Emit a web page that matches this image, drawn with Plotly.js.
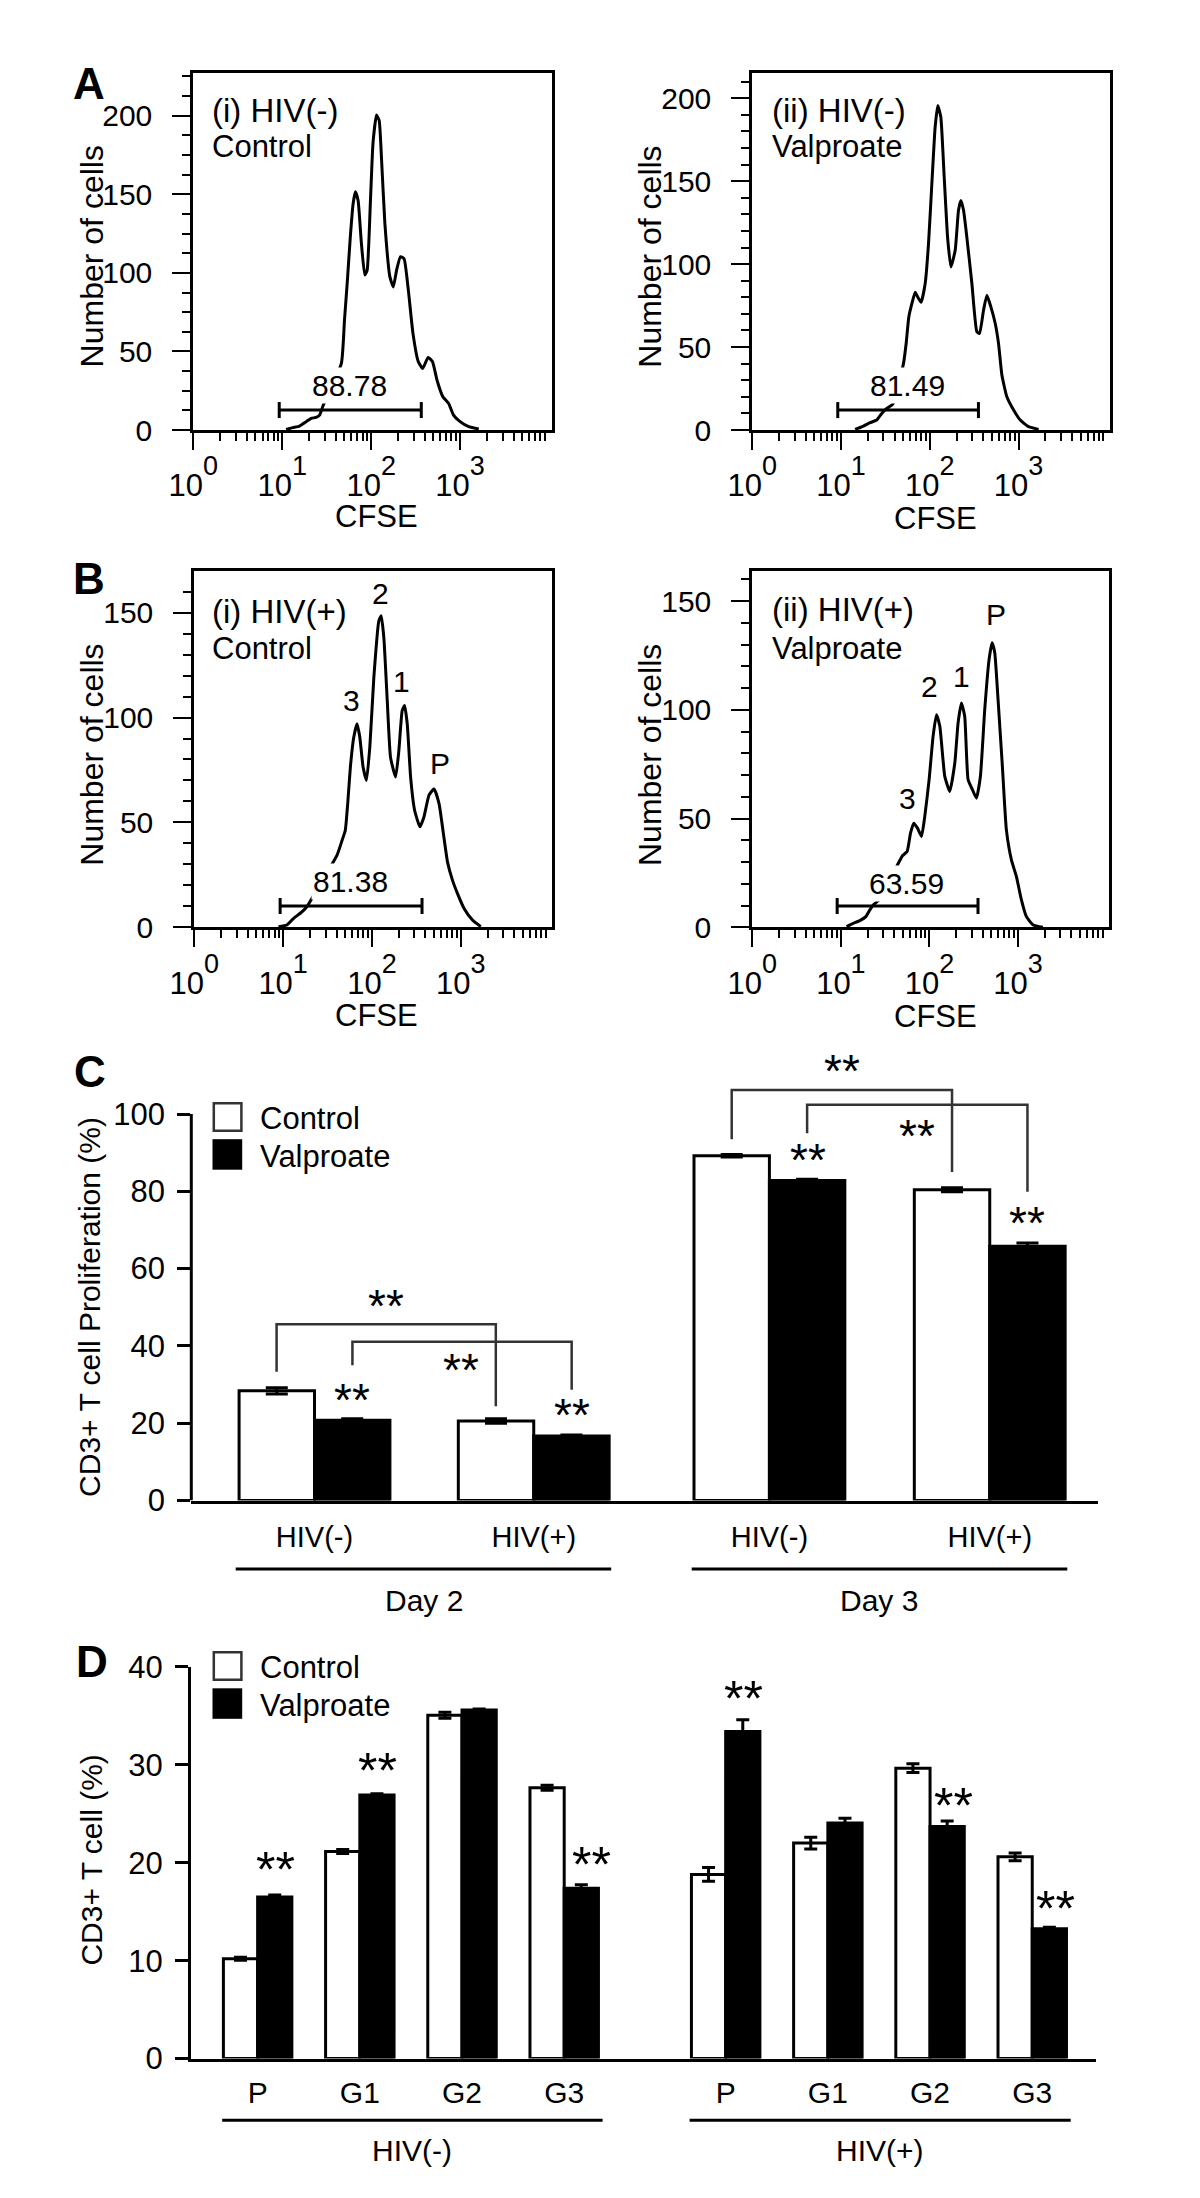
<!DOCTYPE html>
<html><head><meta charset="utf-8">
<script src="https://cdn.plot.ly/plotly-3.0.1.min.js"></script>
<style>html,body{margin:0;padding:0;background:#fff}#chart{width:1200px;height:2198px}</style>
</head><body><div id="chart"></div>
<script>
// ================= DATA =================
// Panel A (i) HIV(-) Control : CFSE intensity vs number of cells
const cfseA1 = [11.04,13.15,15.63,18.62,21.18,23.99,26.3,28.71,46.24,50.12,53.7,58.3,62.66,66.53,71.29,77.62,84.72,90.16,98.17,104.7,114.8,123.0,130.9,142.6,162.2,177.4,193.2,213.8,234.4,261.8,295.1,338.8,380.2,436.5,489.8,549.5,639.7,741.3,843.3,1000,1247,1622];
const cellsA1 = [0.4,1.5,2.5,5.3,7.4,8,9.5,15.3,42.4,70,93,123,144,151.6,146,119,98.6,101.8,146,182,200.4,197,172,131.5,97.6,91,101.8,110.3,109,89,61.5,43.5,39.2,46.2,43.5,31.8,21.2,17,9.5,5.3,2.1,0.6];
// Panel A (ii) HIV(-) Valproate
const cfseA2 = [14.39,17.86,21.23,25.23,28.77,32.73,38.28,50.47,54.08,57.94,62.66,68.39,73.28,79.80,88.51,96.61,105.4,114.8,123.0,133.0,145.2,158.5,172.6,193.2,210.4,223.9,239.9,261.2,297.8,338.8,363.1,402.7,439.5,487.5,545.8,594.3,648.6,737.9,879.0,1044.7,1297.2,1682.7];
const cellsA2 = [0.4,2.4,4.4,6,10,13,15.6,40,52,68,76,83,80,77,88,112,148.4,182.5,195.6,188.6,152.5,116.3,98.3,108.3,132.4,138.4,132.4,116.3,88.3,59.2,58.2,72.2,81.2,74.2,64.2,52.2,33.1,20,12,6,2,0.4];
// Panel B (i) HIV(+) Control
const cfseB1 = [8.87,11.04,13.12,15.60,18.54,20.56,40.46,46.13,50.12,53.33,57.15,62.37,67.92,72.95,79.43,86.70,94.62,104.95,119.4,127.06,136.1,148.6,161.8,184.5,200.9,218.8,232.8,249.5,272.3,302.0,346.7,384.6,438.5,500.0,568.9,636.8,707.9,805.4,916.2,1088.9,1352.1,1678.8];
const cellsB1 = [0.3,1.1,4.3,6.7,9.8,13,34.4,41.5,46.3,59,76.4,90.6,97,90.6,76.4,70,86,119,146,148.5,138,108,81,71.6,84.3,103.3,105.7,97,71.6,55.8,47.9,52.6,63,66,59,44.7,31.2,22.5,16.2,9,3.5,0.3];
// Panel B (ii) HIV(+) Valproate
const cfseB2 = [11.59,13.77,16.37,19.14,21.23,23.17,27.04,49.55,55.98,61.09,66.53,73.28,81.28,88.51,99.08,109.9,119.9,130.9,148.9,169.4,193.2,210.4,229.6,250.0,272.9,305.5,338.8,375.8,420.7,471.0,509.3,545.8,594.3,665.3,737.9,841.4,957.2,1091.4,1241.7,1479.1,1905.5];
const cellsB2 = [0.3,1.8,3.1,4.9,8,10.3,12.6,32.9,34.9,43.3,47.9,45.6,41.8,51,67.9,87.9,97.8,92.5,69.4,62.5,75.6,94,103.2,97,67.9,63.3,59.4,69.4,100.2,123.2,130.9,126.3,104.8,74,44.9,31,23.4,12.6,4.9,1.1,0];
// gates (CFSE start, end) and percentage of divided cells
const gateStart = [9.25, 9.18, 9.25, 9.08];
const gateEnd = [366, 353, 366, 353];
const gatePct = ['88.78', '81.49', '81.38', '63.59'];
const histTitles = ['(i) HIV(-)', '(ii) HIV(-)', '(i) HIV(+)', '(ii) HIV(+)'];
const histTreat = ['Control', 'Valproate', 'Control', 'Valproate'];
const peakLabels = ['3', '2', '1', 'P'];
const xTickExp = ['0', '1', '2', '3'];

// Panel C : CD3+ T cell proliferation (%)
const dayLabels = ['Day 2', 'Day 3'];
const hivLabelsC = ['HIV(-)', 'HIV(+)', 'HIV(-)', 'HIV(+)'];
const prolifControl = [28.4, 20.6, 89.2, 80.4];
const prolifControlErr = [0.8, 0.6, 0.3, 0.5];
const prolifValproate = [20.8, 16.7, 82.8, 65.8];
const prolifValproateErr = [0.4, 0.3, 0.3, 0.8];

// Panel D : CD3+ T cell (%) per generation
const hivLabelsD = ['HIV(-)', 'HIV(+)'];
const genLabels = ['P', 'G1', 'G2', 'G3', 'P', 'G1', 'G2', 'G3'];
const genControl = [10.2, 21.15, 35.05, 27.65, 18.8, 22.0, 29.65, 20.6];
const genControlErr = [0.15, 0.2, 0.3, 0.25, 0.7, 0.6, 0.45, 0.4];
const genValproate = [16.5, 26.9, 35.6, 17.4, 33.4, 24.05, 23.7, 13.25];
const genValproateErr = [0.2, 0.15, 0.1, 0.35, 1.2, 0.5, 0.55, 0.15];

// ================= LAYOUT HELPERS =================
const FONT = 'Liberation Sans, Arial, Helvetica, sans-serif';
const W = 1200, H = 2198;
const PX = x => x / W, PY = y => 1 - y / H;
const BLACK = '#000';

const traces = [];
const shapes = [];
const annotations = [];
const layout = {
  width: W, height: H, margin: {l: 0, r: 0, t: 0, b: 0},
  paper_bgcolor: '#fff', plot_bgcolor: 'rgba(0,0,0,0)',
  showlegend: false, barmode: 'overlay',
  font: {family: FONT, color: BLACK, size: 30}
};

function txt(text, x, y, size, opts) {
  annotations.push(Object.assign({
    text: text, x: PX(x), y: PY(y), xref: 'paper', yref: 'paper',
    showarrow: false, xanchor: 'center', yanchor: 'middle',
    font: {family: FONT, size: size, color: BLACK}
  }, opts || {}));
}

// minor ticks for log axis
const minorLog = [];
for (let d = 1; d <= 1000; d *= 10) for (let k = 2; k <= 9; k++) minorLog.push(k * d);

// ================= HISTOGRAMS =================
const histSeries = [[cfseA1, cellsA1], [cfseA2, cellsA2], [cfseB1, cellsB1], [cfseB2, cellsB2]];
const histGeom = [
  {xd: [193.3, 551.7], yd: [73.3, 430], yr: 227, ydt: 12.5, ymax: 225, gy: 12.7, lx: 1.755, ly: 28.5,
   tx: 210, ty: [110, 146.7], yt: [91.7, 256.7], xt: [376.7, 516.7], peaks: null},
  {xd: [752.3, 1110], yd: [73.3, 430], yr: 215, ydt: 10, ymax: 210, gy: 12.0, lx: 1.748, ly: 27,
   tx: 770, ty: [110, 146.7], yt: [650, 256.7], xt: [935, 518.3], peaks: null},
  {xd: [194.3, 552.3], yd: [570.7, 927.3], yr: 170, ydt: 10, ymax: 160, gy: 10.1, lx: 1.755, ly: 21.7,
   tx: 210, ty: [611.7, 648.3], yt: [91.7, 755], xt: [376.7, 1015],
   peaks: [[1.775, 108.2], [2.101, 159], [2.338, 117], [2.77, 78]]},
  {xd: [752.3, 1109.3], yd: [570.7, 927.3], yr: 164, ydt: 10, ymax: 160, gy: 9.8, lx: 1.741, ly: 20.3,
   tx: 770, ty: [610, 648.3], yt: [650, 755], xt: [935, 1016.7],
   peaks: [[1.748, 59.4], [1.997, 110.9], [2.36, 115.5], [2.75, 143.9]]}
];
const xTickText = xTickExp.map(e => '10<span style="font-size:27px;baseline-shift:21px">' + e + '</span>');

histGeom.forEach((g, i) => {
  const n = i + 1;
  const xa = n === 1 ? 'x' : 'x' + n, ya = n === 1 ? 'y' : 'y' + n;
  const xk = n === 1 ? 'xaxis' : 'xaxis' + n, yk = n === 1 ? 'yaxis' : 'yaxis' + n;
  traces.push({type: 'scatter', mode: 'lines', x: histSeries[i][0], y: histSeries[i][1],
    xaxis: xa, yaxis: ya, line: {color: BLACK, width: 3, shape: 'spline', smoothing: 0.45},
    hoverinfo: 'skip'});
  const yminor = [];
  for (let v = 0; v <= g.ymax + 1e-6; v += g.ydt) yminor.push(v);
  layout[xk] = {
    domain: [PX(g.xd[0]), PX(g.xd[1])], anchor: ya, type: 'log', range: [0, 4.03],
    showline: true, linewidth: 3, linecolor: BLACK, mirror: true,
    ticks: 'outside', ticklen: 17, tickwidth: 2, tickcolor: BLACK,
    tickmode: 'array', tickvals: [1, 10, 100, 1000], ticktext: xTickText,
    tickfont: {family: FONT, size: 31, color: BLACK}, ticklabelstandoff: 9,
    minor: {ticks: 'outside', ticklen: 8, tickwidth: 2, tickcolor: BLACK, tickmode: 'array', tickvals: minorLog},
    showgrid: false, zeroline: false, fixedrange: true
  };
  layout[yk] = {
    domain: [PY(g.yd[1]), PY(g.yd[0])], anchor: xa, range: [0, g.yr],
    showline: true, linewidth: 3, linecolor: BLACK, mirror: true,
    ticks: 'outside', ticklen: 18, tickwidth: 2, tickcolor: BLACK,
    tickmode: 'array', tickvals: [0, 50, 100, 150, 200].filter(v => v <= g.yr),
    tickfont: {family: FONT, size: 30, color: BLACK}, ticklabelstandoff: 14,
    minor: {ticks: 'outside', ticklen: 8, tickwidth: 2, tickcolor: BLACK, tickmode: 'array', tickvals: yminor},
    showgrid: false, zeroline: false, fixedrange: true
  };
  // gate marker
  shapes.push({type: 'line', xref: xa, yref: ya, x0: gateStart[i], x1: gateEnd[i], y0: g.gy, y1: g.gy,
    line: {color: BLACK, width: 3}});
  [gateStart[i], gateEnd[i]].forEach(xv => shapes.push({type: 'line', xref: xa, yref: ya,
    ysizemode: 'pixel', yanchor: g.gy, y0: -8, y1: 8, x0: xv, x1: xv, line: {color: BLACK, width: 3}}));
  annotations.push({text: gatePct[i], xref: xa, yref: ya, x: g.lx, y: g.ly, showarrow: false,
    bgcolor: '#fff', borderpad: 1, font: {family: FONT, size: 30, color: BLACK}});
  if (g.peaks) g.peaks.forEach((p, k) => annotations.push({text: peakLabels[k], xref: xa, yref: ya,
    x: p[0], y: p[1], showarrow: false, font: {family: FONT, size: 30, color: BLACK}}));
  txt(histTitles[i], g.tx, g.ty[0], 33, {xanchor: 'left'});
  txt(histTreat[i], g.tx, g.ty[1], 31, {xanchor: 'left'});
  txt('Number of cells', g.yt[0], g.yt[1], 32, {textangle: -90});
  txt('CFSE', g.xt[0], g.xt[1], 31);
});

// panel letters
[['A', 89.3, 83.3], ['B', 89.3, 578.3], ['C', 89.6, 1071.4], ['D', 92.4, 1661.3]].forEach(l =>
  txt('<b>' + l[0] + '</b>', l[1], l[2], 44));

function legend(yTop) {
  shapes.push({type: 'rect', xref: 'paper', yref: 'paper', x0: PX(213.8), x1: PX(241.4), y0: PY(yTop + 28.5), y1: PY(yTop + 1),
    fillcolor: '#fff', line: {color: '#333', width: 2.5}});
  shapes.push({type: 'rect', xref: 'paper', yref: 'paper', x0: PX(212.5), x1: PX(242.2), y0: PY(yTop + 67.5), y1: PY(yTop + 37),
    fillcolor: BLACK, line: {width: 0}});
  txt('Control', 257.5, yTop + 16, 31, {xanchor: 'left'});
  txt('Valproate', 257.5, yTop + 54, 31, {xanchor: 'left'});
}
const STAR_SIZE = 50, STAR_SHIFT = -5;

// ================= PANEL C =================
const posC = [0, 1, 2.075, 3.08];
const wC = 0.344;
const yC0 = 1500.6, pxPerC = 3.866;
traces.push({type: 'bar', name: 'Control', x: posC, y: prolifControl, xaxis: 'x5', yaxis: 'y5',
  offset: -wC, width: wC, marker: {color: '#fff', line: {color: BLACK, width: 3}},
  error_y: {type: 'data', array: prolifControlErr, visible: true, color: BLACK, thickness: 3, width: 11},
  hoverinfo: 'skip'});
traces.push({type: 'bar', name: 'Valproate', x: posC, y: prolifValproate, xaxis: 'x5', yaxis: 'y5',
  offset: 0, width: wC, marker: {color: BLACK, line: {color: BLACK, width: 3}},
  error_y: {type: 'data', array: prolifValproateErr, visible: true, color: BLACK, thickness: 3, width: 11},
  hoverinfo: 'skip'});
layout.xaxis5 = {domain: [PX(191.3), PX(1097.6)], anchor: 'y5', range: [-0.562, 3.572],
  showline: true, linewidth: 3, linecolor: BLACK, ticks: '', tickmode: 'array', tickvals: posC,
  ticktext: hivLabelsC, tickfont: {family: FONT, size: 29, color: BLACK}, ticklabelstandoff: 9,
  showgrid: false, zeroline: false, fixedrange: true};
layout.yaxis5 = {domain: [PY(yC0), PY(yC0 - 120 * pxPerC)], anchor: 'x5', range: [0, 120],
  showline: false, ticks: 'outside', ticklen: 13, tickwidth: 3, tickcolor: BLACK,
  tickmode: 'array', tickvals: [0, 20, 40, 60, 80, 100],
  tickfont: {family: FONT, size: 31, color: BLACK}, ticklabelstandoff: 6,
  showgrid: false, zeroline: false, fixedrange: true};
shapes.push({type: 'line', xref: 'x5 domain', yref: 'y5', x0: 0, x1: 0, y0: 0, y1: 100, line: {color: BLACK, width: 3}});
// significance brackets (C)
const BR = '#333';
[
  [[-0.173, 33.3], [-0.173, 45.6], [0.827, 45.6], [0.827, 24.4]],
  [[0.173, 35], [0.173, 41.1], [1.173, 41.1], [1.173, 28.7]],
  [[1.903, 93.5], [1.903, 106.2], [2.908, 106.2], [2.908, 85]],
  [[2.247, 95], [2.247, 102.4], [3.252, 102.4], [3.252, 79.9]]
].forEach(b => shapes.push({type: 'path', xref: 'x5', yref: 'y5',
  path: 'M' + b.map(p => p[0] + ',' + p[1]).join(' L'), line: {color: BR, width: 2.5}}));
const starsC = [[0.325, 51.7], [0.67, 35], [0.173, 27.3], [1.173, 23.5], [2.408, 112.3], [2.749, 95.7], [2.251, 89.5], [3.249, 73]];
starsC.forEach(s => annotations.push({text: '**', xref: 'x5', yref: 'y5', x: s[0], y: s[1], showarrow: false,
  yshift: STAR_SHIFT, font: {family: FONT, size: STAR_SIZE - 4, color: BLACK}}));
legend(1102.2);
[[235.7, 611.2, 424.4], [691.7, 1067.3, 879.3]].forEach((g, i) => {
  shapes.push({type: 'line', xref: 'paper', yref: 'paper', x0: PX(g[0]), x1: PX(g[1]), y0: PY(1569), y1: PY(1569), line: {color: BLACK, width: 3}});
  txt(dayLabels[i], g[2], 1600.5, 30);
});
txt('CD3+ T cell Proliferation (%)', 89.6, 1307.3, 30, {textangle: -90});

// ================= PANEL D =================
const posD = [0, 1, 2, 3, 4.58, 5.58, 6.58, 7.58];
const wD = 0.335;
traces.push({type: 'bar', name: 'Control', x: posD, y: genControl, xaxis: 'x6', yaxis: 'y6',
  offset: -wD, width: wD, marker: {color: '#fff', line: {color: BLACK, width: 3}},
  error_y: {type: 'data', array: genControlErr, visible: true, color: BLACK, thickness: 3, width: 6.5},
  hoverinfo: 'skip'});
traces.push({type: 'bar', name: 'Valproate', x: posD, y: genValproate, xaxis: 'x6', yaxis: 'y6',
  offset: 0, width: wD, marker: {color: BLACK, line: {color: BLACK, width: 3}},
  error_y: {type: 'data', array: genValproateErr, visible: true, color: BLACK, thickness: 3, width: 6.5},
  hoverinfo: 'skip'});
layout.xaxis6 = {domain: [PX(190.9), PX(1095.8)], anchor: 'y6', range: [-0.653, 8.202],
  showline: true, linewidth: 3, linecolor: BLACK, ticks: '', tickmode: 'array', tickvals: posD,
  ticktext: genLabels, tickfont: {family: FONT, size: 30, color: BLACK}, ticklabelstandoff: 5,
  showgrid: false, zeroline: false, fixedrange: true};
layout.yaxis6 = {domain: [PY(2058.6), PY(1666.8)], anchor: 'x6', range: [0, 40],
  showline: true, linewidth: 3, linecolor: BLACK, ticks: 'outside', ticklen: 13, tickwidth: 3, tickcolor: BLACK,
  tickmode: 'array', tickvals: [0, 10, 20, 30, 40],
  tickfont: {family: FONT, size: 31, color: BLACK}, ticklabelstandoff: 6,
  showgrid: false, zeroline: false, fixedrange: true};
const starsD = [[0.177, 19.75], [1.175, 29.9], [3.266, 20.25], [4.75, 37.25], [6.813, 26.35], [7.804, 15.8]];
starsD.forEach(s => annotations.push({text: '**', xref: 'x6', yref: 'y6', x: s[0], y: s[1], showarrow: false,
  yshift: STAR_SHIFT, font: {family: FONT, size: STAR_SIZE, color: BLACK}}));
legend(1651.3);
[[222.2, 602.6, 412], [689.6, 1070.7, 880.1]].forEach((g, i) => {
  shapes.push({type: 'line', xref: 'paper', yref: 'paper', x0: PX(g[0]), x1: PX(g[1]), y0: PY(2120.2), y1: PY(2120.2), line: {color: BLACK, width: 3}});
  txt(hivLabelsD[i], g[2], 2150.8, 30);
});
txt('CD3+ T cell (%)', 91.3, 1860.3, 30, {textangle: -90});

layout.shapes = shapes;
layout.annotations = annotations;
Plotly.newPlot('chart', traces, layout, {staticPlot: true, displayModeBar: false});
</script>
</body></html>
